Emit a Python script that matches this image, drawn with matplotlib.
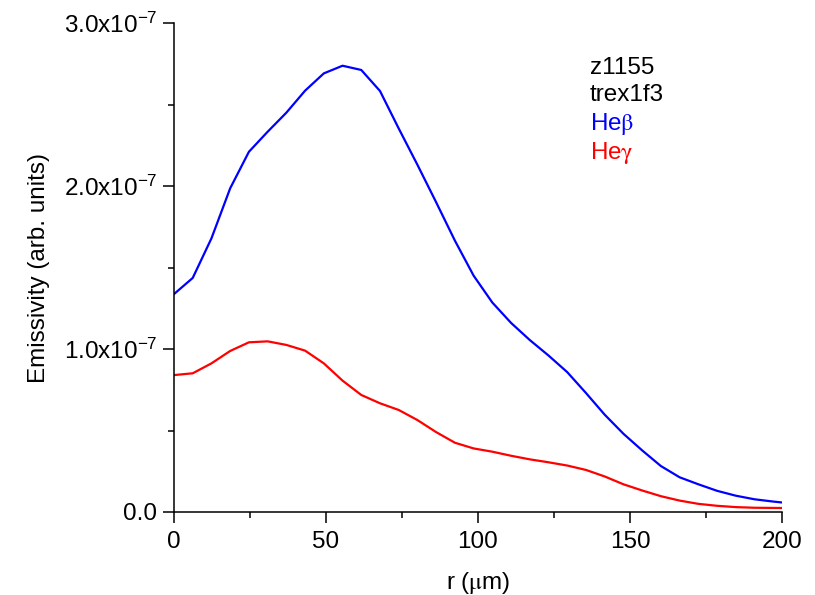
import numpy as np
from matplotlib import pyplot as plt
from matplotlib.ticker import MultipleLocator, FuncFormatter

plt.rcParams['font.family'] = ['Liberation Sans', 'DejaVu Sans']
plt.rcParams['mathtext.fontset'] = 'stix'
plt.rcParams['mathtext.default'] = 'regular'

#%% datos (emisividad en unidades de 1e-7)

r = [0.0, 6.16, 12.32, 18.48, 24.64, 30.8, 36.96, 43.12, 49.28, 55.44,
     61.6, 67.76, 73.92, 80.08, 86.24, 92.4, 98.56, 104.72, 110.88, 117.04,
     123.2, 129.36, 135.52, 141.68, 147.84, 154.0, 160.16, 166.32, 172.48,
     178.64, 184.8, 190.96, 197.12, 203.28]

he_beta = [1.337, 1.436, 1.679, 1.986, 2.210, 2.333, 2.450, 2.585, 2.691, 2.738,
           2.712, 2.583, 2.353, 2.13, 1.90, 1.665, 1.45, 1.285, 1.16, 1.055,
           0.96, 0.858, 0.73, 0.597, 0.48, 0.378, 0.282, 0.213, 0.17,
           0.13, 0.10, 0.078, 0.064, 0.052]

he_gamma = [0.840, 0.851, 0.912, 0.988, 1.041, 1.047, 1.025, 0.990, 0.912, 0.806,
            0.718, 0.667, 0.626, 0.564, 0.49, 0.425, 0.39, 0.37, 0.345, 0.323,
            0.305, 0.285, 0.258, 0.218, 0.17, 0.132, 0.097, 0.07, 0.05,
            0.038, 0.03, 0.026, 0.025, 0.024]

r = np.array(r)
he_beta = np.array(he_beta)*1e-7
he_gamma = np.array(he_gamma)*1e-7

#%% FIGURA

fs = 17.5

fig = plt.figure(figsize=(8.15, 5.95), dpi=100)
ax = fig.add_axes([0.2135, 0.1395, 0.746, 0.8218])

ax.plot(r, he_beta, color='blue', linewidth=1.6)
ax.plot(r, he_gamma, color='red', linewidth=1.6)

ax.set_xlim([0, 200])
ax.set_ylim([0, 3e-7])

ax.spines['top'].set_visible(False)
ax.spines['right'].set_visible(False)
ax.spines['left'].set_linewidth(1.1)
ax.spines['bottom'].set_linewidth(1.1)

ax.xaxis.set_major_locator(MultipleLocator(50))
ax.xaxis.set_minor_locator(MultipleLocator(25))
ax.yaxis.set_major_locator(MultipleLocator(1e-7))
ax.yaxis.set_minor_locator(MultipleLocator(0.5e-7))

def fmt_y(v, pos):
    if abs(v) < 1e-12:
        return '0.0'
    return '%.1fx10$^{-7}$' % (v/1e-7)

ax.yaxis.set_major_formatter(FuncFormatter(fmt_y))

ax.tick_params(which='major', direction='out', length=8, width=1.1, labelsize=fs)
ax.tick_params(axis='x', which='major', pad=6)
ax.tick_params(axis='y', which='major', pad=4)
ax.tick_params(which='minor', direction='out', length=4.5, width=1.1)

ax.set_xlabel(r'r ($\mathrm{\mu}$m)', fontsize=fs, labelpad=12)
ax.set_ylabel('Emissivity (arb. units)', fontsize=fs, labelpad=10)

ax.text(0.684, 0.908, 'z1155', transform=ax.transAxes, fontsize=fs, va='center')
ax.text(0.684, 0.853, 'trex1f3', transform=ax.transAxes, fontsize=fs, va='center')
ax.text(0.684, 0.793, r'He$\mathrm{\beta}$', transform=ax.transAxes, fontsize=fs, va='center', color='blue')
ax.text(0.684, 0.734, r'He$\mathrm{\gamma}$', transform=ax.transAxes, fontsize=fs, va='center', color='red')

plt.savefig('out.png', dpi=100)
